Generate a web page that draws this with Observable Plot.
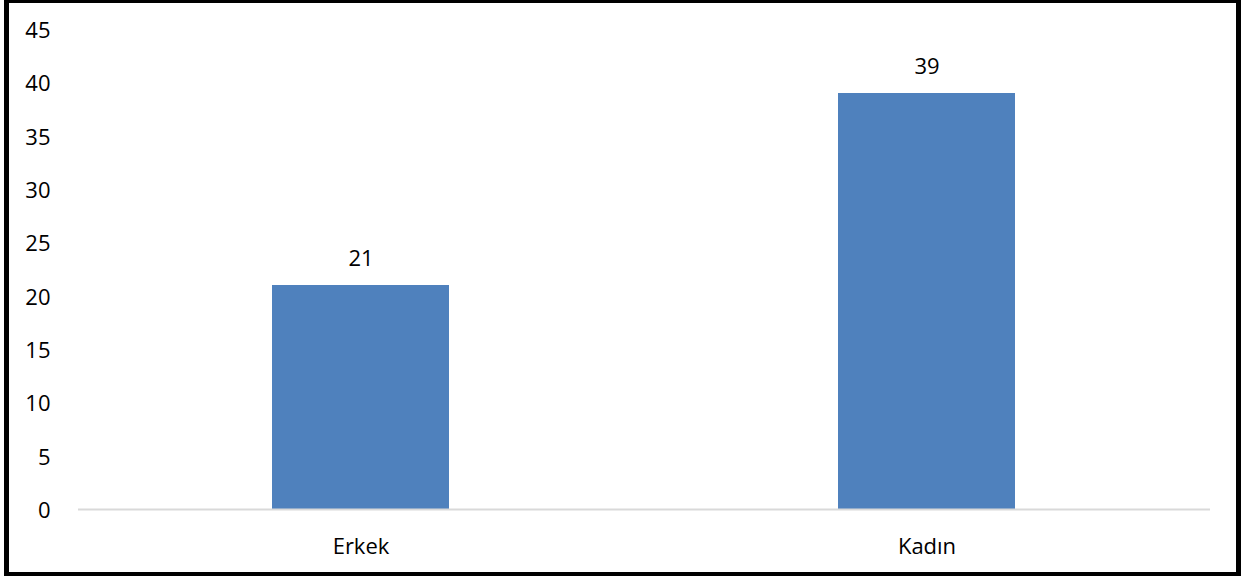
<!DOCTYPE html>
<html>
<head>
<meta charset="utf-8">
<script src="https://cdn.jsdelivr.net/npm/d3@7"></script>
<script src="https://cdn.jsdelivr.net/npm/@observablehq/plot@0.6"></script>
<style>
  html, body { margin: 0; padding: 0; background: #fff; }
  #wrap { position: relative; width: 1250px; height: 578px; overflow: hidden; }
  #chart { position: absolute; left: 0; top: 0; }
  #border { position: absolute; left: 4px; top: 0; width: 1237px; height: 576px; box-sizing: border-box;
            border-style: solid; border-color: #000; border-width: 3px 5px 4px 5px; pointer-events: none; }
</style>
</head>
<body>
<div id="wrap"><div id="chart"></div><div id="border"></div></div>
<script>
const categories = ["Erkek", "Kadın"];
const values = [21, 39];
const yTicks = [0, 5, 10, 15, 20, 25, 30, 35, 40, 45];

const data = categories.map((c, i) => ({category: c, value: values[i]}));

const chart = Plot.plot({
  width: 1250,
  height: 578,
  marginLeft: 78,
  marginRight: 40,
  marginTop: 29,
  marginBottom: 69,
  style: {fontFamily: "'Open Sans', 'Liberation Sans', sans-serif", fontSize: "22px", color: "#000", background: "transparent"},
  x: {domain: categories, paddingInner: 0.687, paddingOuter: 0.3435, label: null},
  y: {domain: [0, 45], label: null},
  marks: [
    Plot.axisY({ticks: yTicks, tickSize: 0, tickPadding: 28, dy: 1.5, label: null, fontSize: 22}),
    Plot.axisX({tickSize: 0, tickPadding: 29, label: null, fontSize: 22}),
    Plot.barY(data, {x: "category", y: "value", fill: "#4f81bd"}),
    Plot.ruleY([0], {stroke: "#d9d9d9", strokeWidth: 2}),
    Plot.text(data, {x: "category", y: "value", text: d => String(d.value), dy: -27, fontSize: 22, fill: "#000"})
  ]
});
document.getElementById("chart").appendChild(chart);
</script>
</body>
</html>
